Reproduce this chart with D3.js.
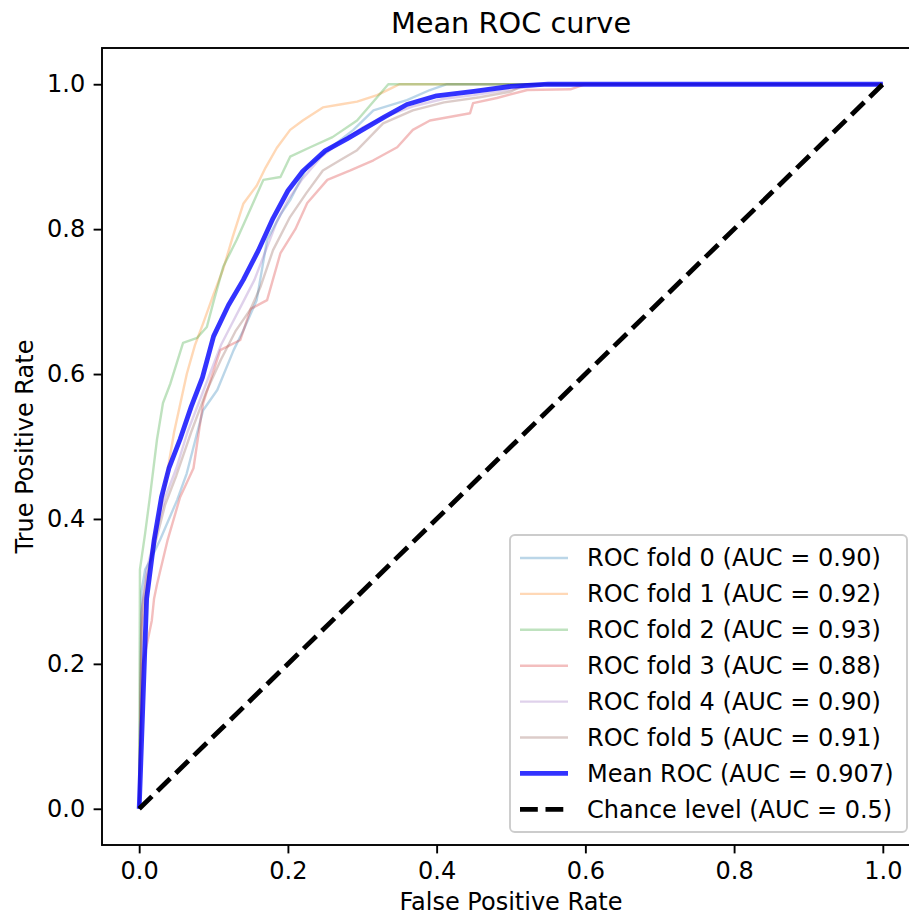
<!DOCTYPE html>
<html>
<head>
<meta charset="utf-8">
<script src="https://cdn.jsdelivr.net/npm/d3@7"></script>
<style>
  body { margin: 0; background: #fff; }
  svg { display: block; font-family: "DejaVu Sans", sans-serif; }
  .tick text { font-size: 24px; fill: #000; }
  .tick line { stroke: #000; stroke-width: 1.9px; }
</style>
</head>
<body>
<div id="chart"></div>
<script>
// fold ROC curves, [fpr, tpr]
const fold0 = [[0,0],[0.003,0.3],[0.008,0.33],[0.015,0.343],[0.028,0.371],[0.051,0.426],[0.064,0.463],[0.078,0.519],[0.086,0.55],[0.105,0.578],[0.127,0.633],[0.14,0.66],[0.158,0.702],[0.172,0.785],[0.19,0.82],[0.203,0.84],[0.226,0.886],[0.253,0.909],[0.288,0.937],[0.315,0.964],[0.36,0.978],[0.391,0.992],[0.414,1.0],[1,1]];
const fold1 = [[0,0],[0.003,0.25],[0.01,0.3],[0.019,0.37],[0.032,0.43],[0.047,0.52],[0.064,0.6],[0.075,0.64],[0.086,0.67],[0.1,0.71],[0.113,0.745],[0.126,0.79],[0.14,0.835],[0.158,0.86],[0.17,0.885],[0.185,0.912],[0.203,0.937],[0.22,0.95],[0.247,0.968],[0.27,0.972],[0.293,0.976],[0.32,0.985],[0.34,0.995],[0.35,1.0],[1,1]];
const fold2 = [[0,0],[0.001,0.33],[0.008,0.38],[0.015,0.435],[0.024,0.51],[0.032,0.56],[0.042,0.587],[0.059,0.643],[0.078,0.65],[0.091,0.665],[0.1,0.7],[0.113,0.748],[0.131,0.785],[0.145,0.817],[0.167,0.868],[0.19,0.872],[0.203,0.9],[0.23,0.913],[0.26,0.927],[0.293,0.95],[0.32,0.982],[0.335,1.0],[1,1]];
const fold3 = [[0,0],[0.005,0.2],[0.017,0.26],[0.02,0.29],[0.024,0.31],[0.038,0.37],[0.055,0.43],[0.073,0.47],[0.086,0.56],[0.109,0.633],[0.136,0.647],[0.15,0.69],[0.172,0.702],[0.19,0.767],[0.21,0.8],[0.226,0.836],[0.253,0.868],[0.284,0.881],[0.315,0.895],[0.347,0.913],[0.368,0.937],[0.391,0.95],[0.445,0.96],[0.449,0.974],[0.481,0.981],[0.522,0.992],[0.58,0.993],[0.6,1.0],[1,1]];
const fold4 = [[0,0],[0.004,0.28],[0.01,0.33],[0.02,0.37],[0.035,0.43],[0.05,0.47],[0.065,0.52],[0.08,0.56],[0.095,0.6],[0.11,0.64],[0.125,0.67],[0.14,0.7],[0.155,0.73],[0.17,0.77],[0.185,0.81],[0.2,0.84],[0.22,0.87],[0.245,0.9],[0.27,0.92],[0.3,0.94],[0.33,0.955],[0.37,0.97],[0.41,0.98],[0.45,0.985],[0.5,0.993],[0.55,1.0],[1,1]];
const fold5 = [[0,0],[0.003,0.27],[0.01,0.32],[0.02,0.36],[0.035,0.42],[0.05,0.46],[0.07,0.52],[0.09,0.575],[0.11,0.62],[0.13,0.66],[0.15,0.69],[0.163,0.72],[0.18,0.771],[0.203,0.817],[0.225,0.85],[0.247,0.881],[0.27,0.895],[0.293,0.909],[0.328,0.946],[0.368,0.964],[0.41,0.975],[0.458,0.982],[0.5,0.99],[0.52,1.0],[1,1]];
const meanRoc = [[0,0],[0.01,0.29],[0.02,0.37],[0.03,0.43],[0.04,0.47],[0.055,0.51],[0.07,0.555],[0.085,0.595],[0.1,0.652],[0.12,0.695],[0.14,0.73],[0.16,0.77],[0.18,0.815],[0.2,0.853],[0.22,0.88],[0.25,0.908],[0.28,0.925],[0.3,0.937],[0.33,0.955],[0.36,0.972],[0.4,0.984],[0.45,0.99],[0.5,0.997],[0.55,1.0],[1,1]];
const chance = [[0,0],[1,1]];

const foldCurves = [fold0, fold1, fold2, fold3, fold4, fold5];
const foldAuc = ["0.90", "0.92", "0.93", "0.88", "0.90", "0.91"];
const foldColors = ["#1f77b4", "#ff7f0e", "#2ca02c", "#d62728", "#9467bd", "#8c564b"];
const meanAuc = "0.907";
const tickValues = [0, 0.2, 0.4, 0.6, 0.8, 1.0];

(function drawChart() {
    const width = 909, height = 918;
    const plotLeft = 102, plotRight = 920, plotTop = 48, plotBottom = 845;

    const svg = d3.select("#chart").append("svg")
        .attr("width", width)
        .attr("height", height);

    const x = d3.scaleLinear().domain([-0.05, 1.05]).range([plotLeft, plotRight]);
    const y = d3.scaleLinear().domain([-0.05, 1.05]).range([plotBottom, plotTop]);

    svg.append("clipPath").attr("id", "plot-clip")
      .append("rect")
        .attr("x", plotLeft).attr("y", plotTop)
        .attr("width", plotRight - plotLeft).attr("height", plotBottom - plotTop);

    const plot = svg.append("g").attr("clip-path", "url(#plot-clip)");
    const line = d3.line().x(d => x(d[0])).y(d => y(d[1]));

    // --- fold curves ---
    foldCurves.forEach((curve, i) => {
        plot.append("path")
            .datum(curve)
            .attr("d", line)
            .attr("fill", "none")
            .attr("stroke", foldColors[i])
            .attr("stroke-opacity", 0.3)
            .attr("stroke-width", 2.4)
            .attr("stroke-linejoin", "round");
    });

    // --- mean curve ---
    plot.append("path")
        .datum(meanRoc)
        .attr("d", line)
        .attr("fill", "none")
        .attr("stroke", "#0000ff")
        .attr("stroke-opacity", 0.8)
        .attr("stroke-width", 4.8)
        .attr("stroke-linejoin", "round");

    // --- chance level ---
    plot.append("path")
        .datum(chance)
        .attr("d", line)
        .attr("fill", "none")
        .attr("stroke", "#000")
        .attr("stroke-width", 4.8)
        .attr("stroke-dasharray", "17.8,7.7");

    // --- axes ---
    const xAxis = svg.append("g")
        .attr("transform", `translate(0,${plotBottom})`)
        .call(d3.axisBottom(x).tickValues(tickValues).tickFormat(d3.format(".1f"))
            .tickSize(8.4).tickPadding(8.4));
    xAxis.select(".domain").remove();
    xAxis.selectAll(".tick text").attr("font-family", "DejaVu Sans");

    const yAxis = svg.append("g")
        .attr("transform", `translate(${plotLeft},0)`)
        .call(d3.axisLeft(y).tickValues(tickValues).tickFormat(d3.format(".1f"))
            .tickSize(8.4).tickPadding(8.4));
    yAxis.select(".domain").remove();
    yAxis.selectAll(".tick text").attr("font-family", "DejaVu Sans");

    // frame (right side falls off the canvas)
    svg.append("rect")
        .attr("x", plotLeft).attr("y", plotTop)
        .attr("width", plotRight - plotLeft).attr("height", plotBottom - plotTop)
        .attr("fill", "none")
        .attr("stroke", "#000")
        .attr("stroke-width", 1.9);

    // --- labels ---
    svg.append("text")
        .attr("x", (plotLeft + plotRight) / 2)
        .attr("y", 33)
        .attr("text-anchor", "middle")
        .style("font-size", "28.8px")
        .text("Mean ROC curve");

    svg.append("text")
        .attr("x", (plotLeft + plotRight) / 2)
        .attr("y", 910)
        .attr("text-anchor", "middle")
        .style("font-size", "24px")
        .text("False Positive Rate");

    svg.append("text")
        .attr("transform", `translate(33,${(plotTop + plotBottom) / 2}) rotate(-90)`)
        .attr("text-anchor", "middle")
        .style("font-size", "24px")
        .text("True Positive Rate");

    // --- legend ---
    const legendItems = foldAuc.map((auc, i) => ({
        label: `ROC fold ${i} (AUC = ${auc})`,
        color: foldColors[i], opacity: 0.3, width: 2.4, dash: null
    }));
    legendItems.push({ label: `Mean ROC (AUC = ${meanAuc})`, color: "#0000ff", opacity: 0.8, width: 4.8, dash: null });
    legendItems.push({ label: "Chance level (AUC = 0.5)", color: "#000", opacity: 1, width: 4.8, dash: "17.8,7.7" });

    const lgX = 510, lgY = 535, lgW = 397, lgH = 297;
    const rowY0 = 558, rowStep = 35.9;

    const legend = svg.append("g");
    legend.append("rect")
        .attr("x", lgX).attr("y", lgY)
        .attr("width", lgW).attr("height", lgH)
        .attr("rx", 4.8)
        .attr("fill", "#fff").attr("fill-opacity", 0.8)
        .attr("stroke", "#cccccc").attr("stroke-width", 1.9);

    const rows = legend.selectAll("g.row").data(legendItems).join("g")
        .attr("class", "row")
        .attr("transform", (d, i) => `translate(0,${rowY0 + i * rowStep})`);

    rows.append("line")
        .attr("x1", 520).attr("x2", 568)
        .attr("stroke", d => d.color)
        .attr("stroke-opacity", d => d.opacity)
        .attr("stroke-width", d => d.width)
        .attr("stroke-dasharray", d => d.dash);

    rows.append("text")
        .attr("x", 587)
        .attr("dy", "0.35em")
        .style("font-size", "24px")
        .text(d => d.label);
})();
</script>
</body>
</html>
